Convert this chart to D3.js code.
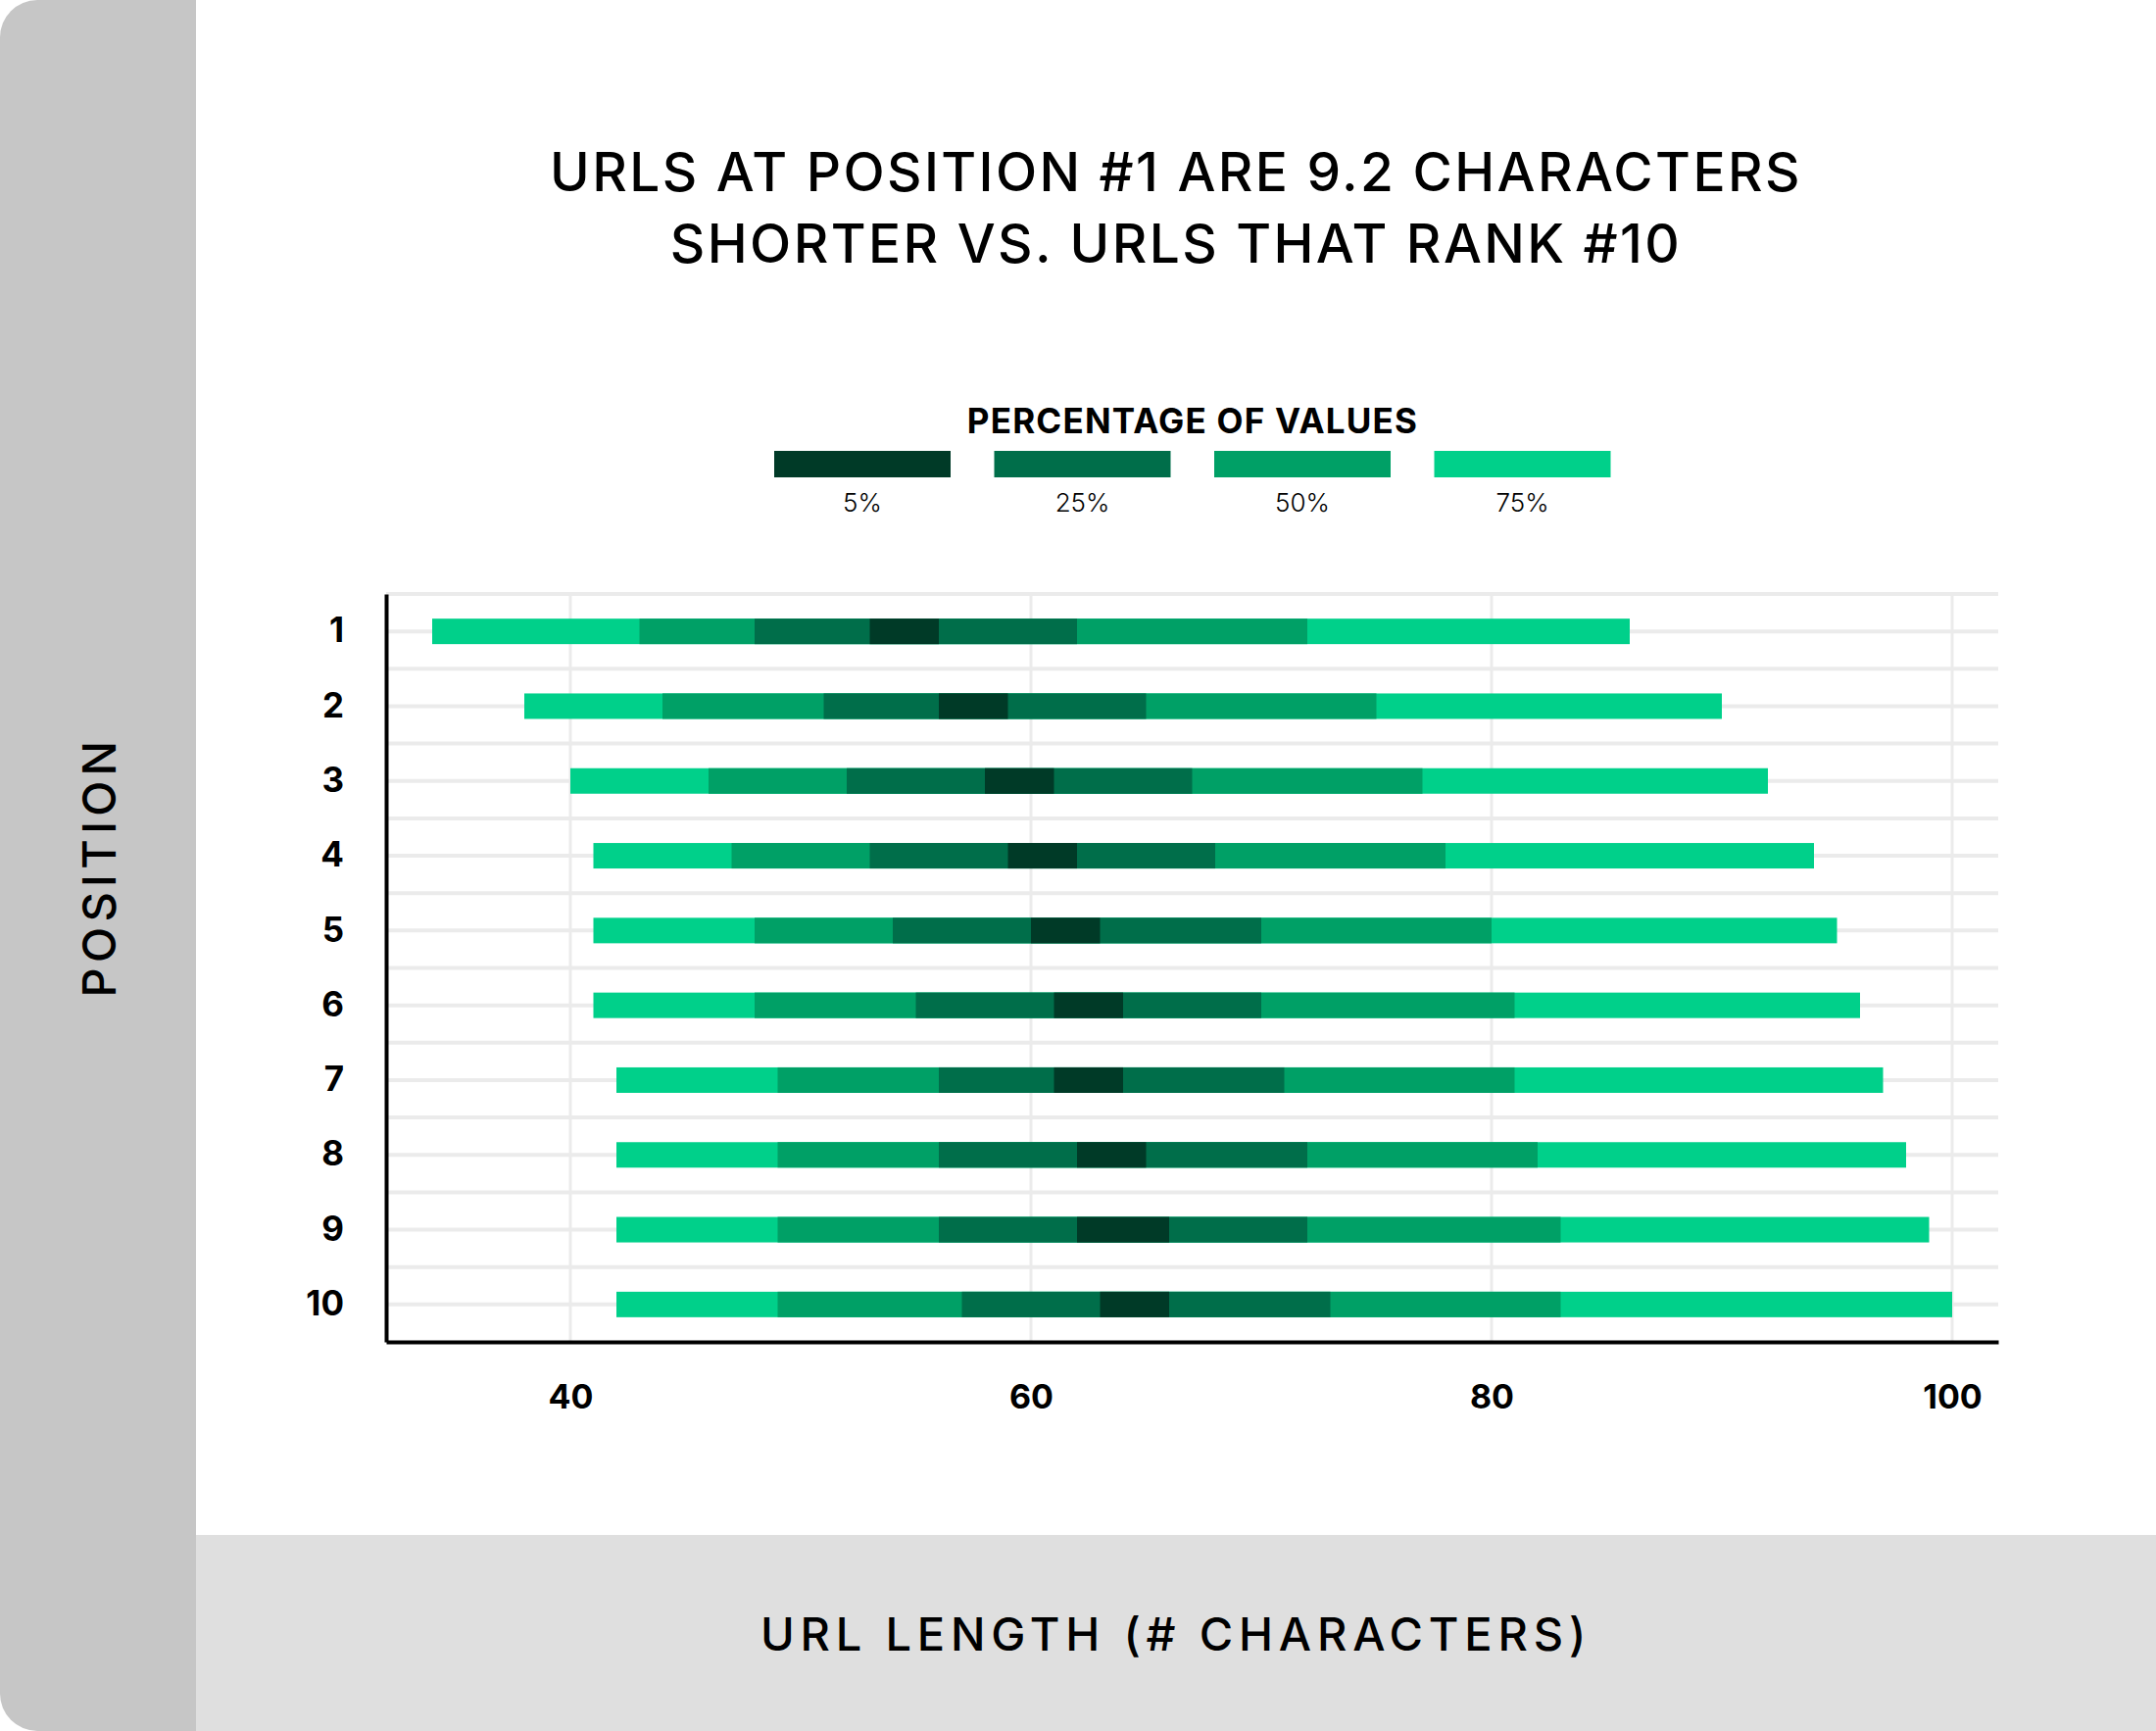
<!DOCTYPE html>
<html>
<head>
<meta charset="utf-8">
<script src="https://cdn.jsdelivr.net/npm/d3@7"></script>
<style>
  body { margin: 0; background: #fff; }
  text { font-family: Inter, "Noto Sans", sans-serif; fill: #000; }
</style>
</head>
<body>
<div id="chart"></div>
<script>
// Data: URL length percentile bands per ranking position
const positions = ["1", "2", "3", "4", "5", "6", "7", "8", "9", "10"];
const lo75 = [34, 38, 40, 41, 41, 41, 42, 42, 42, 42];
const lo50 = [43, 44, 46, 47, 48, 48, 49, 49, 49, 49];
const lo25 = [48, 51, 52, 53, 54, 55, 56, 56, 56, 57];
const lo5  = [53, 56, 58, 59, 60, 61, 61, 62, 62, 63];
const hi5  = [56, 59, 61, 62, 63, 64, 64, 65, 66, 66];
const hi25 = [62, 65, 67, 68, 70, 70, 71, 72, 72, 73];
const hi50 = [72, 75, 77, 78, 80, 81, 81, 82, 83, 83];
const hi75 = [86, 90, 92, 94, 95, 96, 97, 98, 99, 100];
const bandLabels = ["5%", "25%", "50%", "75%"];
const xTicks = [40, 60, 80, 100];

const W = 2200, H = 1766;
const colors = { "5%": "#003a27", "25%": "#006e4a", "50%": "#00a066", "75%": "#00d08a" };

// bands drawn widest first so the narrower ones sit on top
const bands = [
  { key: "75%", lo: lo75, hi: hi75 },
  { key: "50%", lo: lo50, hi: hi50 },
  { key: "25%", lo: lo25, hi: hi25 },
  { key: "5%",  lo: lo5,  hi: hi5 }
];

var margin = {top: 606, right: 161, bottom: 397, left: 394},
    width = W - margin.left - margin.right,
    height = H - margin.top - margin.bottom;

const root = d3.select("#chart").append("svg")
    .attr("width", W)
    .attr("height", H);

// card with rounded left corners
root.append("defs").append("clipPath")
    .attr("id", "card")
  .append("rect")
    .attr("width", W + 100)
    .attr("height", H)
    .attr("rx", 38);

const card = root.append("g").attr("clip-path", "url(#card)");
card.append("rect").attr("width", W).attr("height", H).attr("fill", "#fff");
card.append("rect").attr("width", 200).attr("height", H).attr("fill", "#c6c6c6");
card.append("rect").attr("x", 200).attr("y", 1566).attr("width", W - 200).attr("height", H - 1566).attr("fill", "#dfdfdf");

// Title
const title = root.append("text")
    .attr("x", 1200)
    .attr("text-anchor", "middle")
    .style("font-size", "55px")
    .style("font-weight", "500")
    .style("letter-spacing", "2.4px");
title.append("tspan").attr("x", 1200).attr("y", 195).text("URLS AT POSITION #1 ARE 9.2 CHARACTERS");
title.append("tspan").attr("x", 1200).attr("y", 268).text("SHORTER VS. URLS THAT RANK #10");

// Legend
root.append("text")
    .attr("x", 1217)
    .attr("y", 442)
    .attr("text-anchor", "middle")
    .style("font-size", "35px")
    .style("font-weight", "700")
    .style("letter-spacing", "1.2px")
    .text("PERCENTAGE OF VALUES");

const legend = root.append("g")
    .selectAll("g")
    .data(bandLabels)
    .enter()
    .append("g")
    .attr("transform", (d, i) => `translate(${790 + i * 224.5}, 460)`);

legend.append("rect")
    .attr("width", 180)
    .attr("height", 27)
    .attr("fill", d => colors[d]);

legend.append("text")
    .attr("x", 90)
    .attr("y", 62)
    .attr("text-anchor", "middle")
    .style("font-size", "26px")
    .style("font-weight", "300")
    .text(d => d);

const svg = root.append("g")
    .attr("transform", `translate(${margin.left}, ${margin.top})`);

// Scales
const x = d3.scaleLinear()
    .domain([32, 102])
    .range([0, width]);

const y = d3.scaleBand()
    .domain(positions)
    .range([0, height])
    .padding(0);

const barH = 26;

// Grid lines
const grid = svg.append("g").attr("stroke", "#ebebeb");

grid.selectAll(".row-edge")
    .data(positions)
    .enter()
    .append("line")
    .attr("x1", 0)
    .attr("x2", width)
    .attr("y1", d => y(d))
    .attr("y2", d => y(d))
    .attr("stroke-width", 4);

grid.selectAll(".row-mid")
    .data(positions)
    .enter()
    .append("line")
    .attr("x1", 0)
    .attr("x2", width)
    .attr("y1", d => y(d) + y.bandwidth() / 2)
    .attr("y2", d => y(d) + y.bandwidth() / 2)
    .attr("stroke-width", 4);

grid.selectAll(".vertical-line")
    .data(xTicks)
    .enter()
    .append("line")
    .attr("x1", d => x(d))
    .attr("x2", d => x(d))
    .attr("y1", 0)
    .attr("y2", height)
    .attr("stroke-width", 3);

// Bars
bands.forEach(b => {
  svg.append("g")
      .selectAll("rect")
      .data(positions)
      .enter()
      .append("rect")
      .attr("x", (d, i) => x(b.lo[i]))
      .attr("width", (d, i) => x(b.hi[i]) - x(b.lo[i]))
      .attr("y", d => y(d) + y.bandwidth() / 2 - barH / 2)
      .attr("height", barH)
      .attr("fill", colors[b.key]);
});

// Axes
svg.append("g")
    .attr("transform", "translate(0," + height + ")")
    .call(d3.axisBottom(x).tickSize(0).tickValues(xTicks).tickPadding(44))
    .call(g => g.select(".domain").attr("stroke", "#000").attr("stroke-width", 4))
    .selectAll("text")
    .style("font-size", "34px")
    .style("font-weight", "700")
    .attr("fill", "#000");

svg.append("g")
    .call(d3.axisLeft(y).tickSize(0).tickPadding(43))
    .call(g => g.select(".domain").attr("stroke", "#000").attr("stroke-width", 4))
    .selectAll("text")
    .style("font-size", "35px")
    .style("font-weight", "700")
    .attr("fill", "#000");

svg.selectAll(".tick line").remove();

// Axis titles
root.append("text")
    .attr("transform", "translate(118, 884) rotate(-90)")
    .attr("text-anchor", "middle")
    .style("font-size", "47px")
    .style("font-weight", "500")
    .style("letter-spacing", "5.3px")
    .text("POSITION");

root.append("text")
    .attr("x", 1200)
    .attr("y", 1684)
    .attr("text-anchor", "middle")
    .style("font-size", "47px")
    .style("font-weight", "500")
    .style("letter-spacing", "5.8px")
    .text("URL LENGTH (# CHARACTERS)");
</script>
</body>
</html>
